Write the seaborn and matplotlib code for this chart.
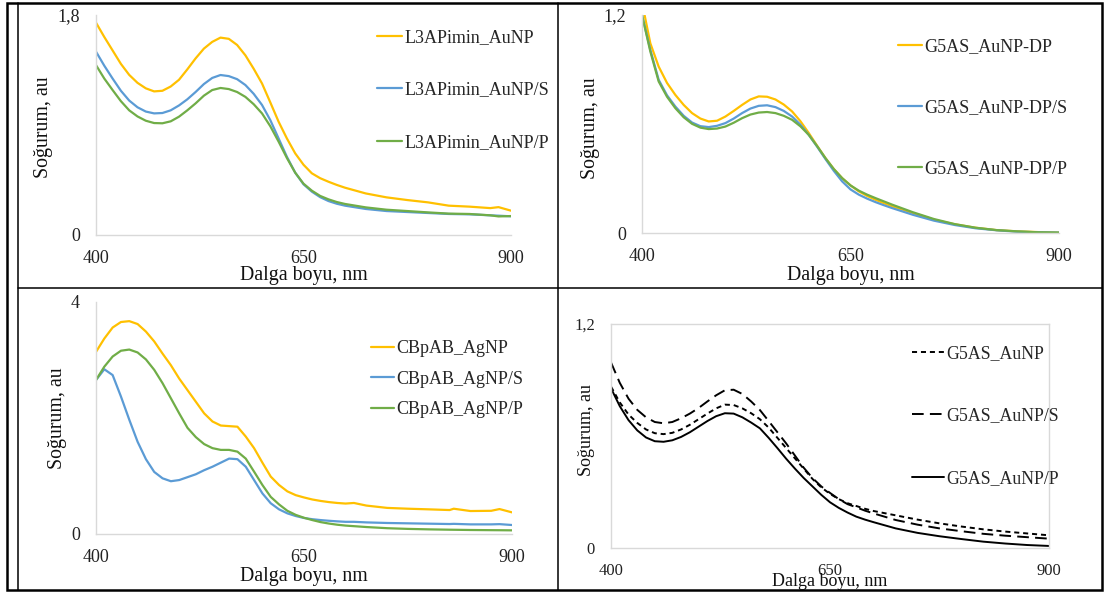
import matplotlib
matplotlib.use("Agg")
import matplotlib.pyplot as plt
import seaborn as sns
import pandas as pd
from matplotlib.lines import Line2D
from matplotlib.patches import Rectangle

# ---------------- data ----------------
# Panel 1: L3APimin
wl1 = [400, 410, 420, 430, 440, 450, 460, 470, 480, 490, 500, 510, 520, 530, 540, 550, 560, 570,
       580, 590, 600, 610, 620, 630, 640, 650, 660, 670, 680, 690, 700,
       725, 750, 775, 800, 825, 850, 875, 885, 900]
l3_aunp = [1.737, 1.62, 1.51, 1.40, 1.31, 1.245, 1.20, 1.175, 1.18, 1.215, 1.27, 1.355, 1.445, 1.525,
           1.58, 1.615, 1.605, 1.555, 1.47, 1.36, 1.24, 1.085, 0.927, 0.79, 0.668, 0.575, 0.505,
           0.465, 0.436, 0.41, 0.387,
           0.34, 0.308, 0.286, 0.267, 0.24, 0.232, 0.22, 0.228, 0.199]
l3_aunp_s = [1.50, 1.385, 1.28, 1.18, 1.10, 1.045, 1.01, 0.995, 0.998, 1.02, 1.06, 1.11, 1.17, 1.235,
             1.285, 1.309, 1.30, 1.275, 1.227, 1.155, 1.064, 0.94, 0.79, 0.64, 0.51, 0.415, 0.355,
             0.31, 0.278, 0.256, 0.24,
             0.213, 0.196, 0.188, 0.18, 0.172, 0.169, 0.161, 0.158, 0.153]
l3_aunp_p = [1.39, 1.28, 1.186, 1.095, 1.02, 0.97, 0.935, 0.916, 0.914, 0.93, 0.968, 1.02, 1.077, 1.14,
             1.186, 1.203, 1.194, 1.17, 1.13, 1.07, 0.995, 0.89, 0.764, 0.63, 0.51, 0.42, 0.363,
             0.32, 0.292, 0.27, 0.254,
             0.226, 0.207, 0.196, 0.185, 0.175, 0.172, 0.161, 0.152, 0.155]
labels1 = ["L3APimin_AuNP", "L3APimin_AuNP/S", "L3APimin_AuNP/P"]

# Panel 2: G5AS_AuNP-DP
wl2 = [400, 410, 420, 430, 440, 450, 460, 470, 480, 490, 500, 510, 520, 530, 540, 550, 560, 570,
       580, 590, 600, 610, 620, 630, 640, 650, 660, 670, 680, 690, 700,
       725, 750, 775, 800, 825, 850, 875, 900]
dp = [1.27, 1.044, 0.916, 0.826, 0.76, 0.705, 0.66, 0.63, 0.614, 0.618, 0.641, 0.672, 0.705, 0.735,
      0.752, 0.75, 0.735, 0.707, 0.669, 0.615, 0.55, 0.48, 0.412, 0.352, 0.302, 0.262, 0.229,
      0.204, 0.183, 0.164, 0.147,
      0.11, 0.073, 0.048, 0.029, 0.016, 0.009, 0.005, 0.002]
dp_s = [1.2, 1.008, 0.843, 0.758, 0.696, 0.645, 0.608, 0.588, 0.583, 0.59, 0.605, 0.63, 0.66, 0.685,
        0.70, 0.703, 0.693, 0.672, 0.641, 0.596, 0.54, 0.475, 0.407, 0.342, 0.284, 0.24, 0.211,
        0.189, 0.17, 0.153, 0.137,
        0.10, 0.068, 0.044, 0.026, 0.015, 0.007, 0.004, 0.002]
dp_p = [1.2, 0.999, 0.834, 0.75, 0.687, 0.637, 0.601, 0.58, 0.572, 0.575, 0.586, 0.607, 0.632, 0.652,
        0.663, 0.666, 0.66, 0.645, 0.623, 0.587, 0.54, 0.478, 0.412, 0.352, 0.302, 0.262, 0.233,
        0.211, 0.192, 0.174, 0.156,
        0.114, 0.077, 0.049, 0.029, 0.016, 0.009, 0.004, 0.002]
labels2 = ["G5AS_AuNP-DP", "G5AS_AuNP-DP/S", "G5AS_AuNP-DP/P"]

# Panel 3: CBpAB_AgNP
wl3 = [400, 410, 420, 430, 440, 450, 460, 470, 480, 490, 500, 510, 520, 530, 540, 550, 560, 570,
       580, 590, 600, 610, 620, 630, 640, 650, 660, 670, 680, 690, 700,
       710, 725, 750, 775, 800, 825, 830, 850, 875, 885, 900]
ag = [3.14, 3.37, 3.56, 3.655, 3.67, 3.62, 3.49, 3.32, 3.11, 2.91, 2.68, 2.48, 2.28, 2.08, 1.94, 1.87,
      1.86, 1.85, 1.68, 1.48, 1.23, 0.99, 0.845, 0.735, 0.67, 0.63, 0.595, 0.57, 0.55, 0.535, 0.525,
      0.535, 0.49, 0.45, 0.436, 0.425, 0.413, 0.436, 0.396, 0.40, 0.43, 0.373]
ag_s = [2.655, 2.84, 2.74, 2.37, 1.97, 1.59, 1.29, 1.07, 0.96, 0.91, 0.93, 0.98, 1.03, 1.10, 1.16,
        1.23, 1.30, 1.29, 1.16, 0.93, 0.70, 0.53, 0.425, 0.356, 0.31, 0.276, 0.255, 0.24, 0.228,
        0.218, 0.21,
        0.21, 0.20, 0.19, 0.184, 0.178, 0.172, 0.175, 0.166, 0.166, 0.17, 0.155]
ag_p = [2.655, 2.885, 3.06, 3.16, 3.18, 3.13, 3.01, 2.83, 2.60, 2.34, 2.08, 1.83, 1.67, 1.55, 1.48,
        1.45, 1.45, 1.42, 1.30, 1.075, 0.845, 0.64, 0.51, 0.40, 0.33, 0.28, 0.24, 0.205, 0.18,
        0.16, 0.145,
        0.135, 0.12, 0.10, 0.088, 0.08, 0.074, 0.073, 0.069, 0.066, 0.065, 0.063]
labels3 = ["CBpAB_AgNP", "CBpAB_AgNP/S", "CBpAB_AgNP/P"]

# Panel 4: G5AS_AuNP (black)
wl4 = [400, 410, 420, 430, 440, 450, 460, 470, 480, 490, 500, 510, 520, 530, 540, 550, 560, 570,
       580, 590, 600, 610, 620, 630, 640, 650, 660, 670, 680, 690, 700,
       725, 750, 775, 800, 825, 850, 875, 900]
g5 = [0.865, 0.78, 0.715, 0.67, 0.635, 0.615, 0.61, 0.617, 0.635, 0.66, 0.69, 0.72, 0.748, 0.768,
      0.766, 0.748, 0.722, 0.69, 0.645, 0.59, 0.535, 0.48, 0.425, 0.37, 0.325, 0.29, 0.262, 0.24,
      0.225, 0.21, 0.198,
      0.175, 0.152, 0.132, 0.115, 0.10, 0.088, 0.078, 0.068]
g5_s = [0.994, 0.885, 0.80, 0.74, 0.70, 0.675, 0.668, 0.675, 0.695, 0.72, 0.75, 0.785, 0.818, 0.845,
        0.848, 0.825, 0.785, 0.739, 0.68, 0.62, 0.56, 0.495, 0.43, 0.375, 0.33, 0.295, 0.262,
        0.235, 0.218, 0.20, 0.185,
        0.15, 0.125, 0.105, 0.09, 0.076, 0.066, 0.058, 0.05]
g5_p = [0.856, 0.76, 0.685, 0.63, 0.592, 0.572, 0.569, 0.577, 0.595, 0.62, 0.65, 0.68, 0.706, 0.722,
        0.72, 0.70, 0.672, 0.641, 0.59, 0.535, 0.478, 0.425, 0.375, 0.33, 0.285, 0.245, 0.215,
        0.19, 0.168, 0.152, 0.138,
        0.105, 0.081, 0.063, 0.048, 0.034, 0.024, 0.016, 0.011]
labels4 = ["G5AS_AuNP", "G5AS_AuNP/S", "G5AS_AuNP/P"]

x_ticks = [400, 650, 900]
x_label = "Dalga boyu, nm"
y_label = "Soğurum, au"

# ---------------- style ----------------
sns.set_theme(style="white")
plt.rcParams["font.family"] = ["Liberation Serif", "DejaVu Serif"]

W, H = 1107, 593
fig = plt.figure(figsize=(W / 100, H / 100), dpi=100)
fig.patch.set_facecolor("white")

COLORS = ["#FFC000", "#5B9BD5", "#70AD47"]
GRID = "#d9d9d9"


def axes_px(l, t, r, b):
    return fig.add_axes([l / W, 1 - b / H, (r - l) / W, (b - t) / H])


def long_df(wl, series, labels):
    frames = []
    for s, lab in zip(series, labels):
        frames.append(pd.DataFrame({"wl": wl, "abs": s, "name": lab}))
    return pd.concat(frames, ignore_index=True)


def style_axes(ax, ymax, ylab_txt, tick_fs, lab_fs, xl_y, yl_x, yl_y, frame=False):
    ax.set_xlim(400, 900)
    ax.set_ylim(0, ymax)
    ax.set_xticks(x_ticks)
    ax.set_xticklabels([str(v) for v in x_ticks])
    ax.set_yticks([0, ymax])
    ax.set_yticklabels(["0", ylab_txt])
    ax.tick_params(length=0, labelsize=tick_fs, colors="#222222")
    ax.tick_params(axis="y", pad=11.5)
    ax.tick_params(axis="x", pad=10.5)
    for side in ["top", "right"]:
        ax.spines[side].set_visible(frame)
    for side in ax.spines:
        ax.spines[side].set_color(GRID)
        ax.spines[side].set_linewidth(1.0)
    ax.set_facecolor("white")
    ax.set_xlabel(x_label, fontsize=lab_fs, va="center", color="#111111")
    ax.xaxis.set_label_coords(0.5, xl_y)
    ax.set_ylabel(y_label, fontsize=lab_fs, va="center", ha="center", color="#111111")
    ax.yaxis.set_label_coords(yl_x, yl_y)


def add_legend(ax, labels, xpx, ypx, spacing, hlen, fs=13):
    handles = ax.get_lines()[:len(labels)]
    ax.legend(handles, labels, loc="center left", bbox_to_anchor=(xpx / W, 1 - ypx / H),
              bbox_transform=fig.transFigure, frameon=False, fontsize=fs,
              handlelength=hlen, handletextpad=0.1, labelspacing=spacing,
              borderpad=0, borderaxespad=0)


# Panel 1
ax1 = axes_px(96, 15, 511, 235)
sns.lineplot(data=long_df(wl1, [l3_aunp, l3_aunp_s, l3_aunp_p], labels1), x="wl", y="abs",
             hue="name", palette=COLORS, linewidth=1.6, sort=False, legend=False, ax=ax1)
style_axes(ax1, 1.8, "1,8", 13, 14.3, -0.186, -0.127, 0.49)
add_legend(ax1, labels1, 377, 90, 1.97, 1.4)

# Panel 2
ax2 = axes_px(642, 15, 1059, 233)
sns.lineplot(data=long_df(wl2, [dp, dp_s, dp_p], labels2), x="wl", y="abs",
             hue="name", palette=COLORS, linewidth=1.6, sort=False, legend=False, ax=ax2)
style_axes(ax2, 1.2, "1,2", 13, 14.3, -0.197, -0.124, 0.48)
add_legend(ax2, labels2, 898, 108, 2.44, 1.35)

# Panel 3
ax3 = axes_px(96, 302, 512, 534)
sns.lineplot(data=long_df(wl3, [ag, ag_s, ag_p], labels3), x="wl", y="abs",
             hue="name", palette=COLORS, linewidth=1.6, sort=False, legend=False, ax=ax3)
style_axes(ax3, 4, "4", 13, 14.3, -0.185, -0.093, 0.5)
add_legend(ax3, labels3, 371, 379, 0.75, 1.3)

# Panel 4
ax4 = axes_px(611, 324, 1049, 548)
sns.lineplot(data=long_df(wl4, [g5, g5_s, g5_p], labels4), x="wl", y="abs",
             style="name", color="black", linewidth=1.4, sort=False, legend=False,
             dashes={labels4[0]: (2.6, 2.0), labels4[1]: (6.0, 3.2), labels4[2]: ""}, ax=ax4)
style_axes(ax4, 1.2, "1,2", 12, 13, -0.15, -0.055, 0.527, frame=True)
add_legend(ax4, labels4, 912, 416, 2.57, 1.8, fs=12.8)

# ---------------- table frame ----------------
fig.add_artist(Rectangle((7 / W, 1 - 590 / H), (1102 - 7) / W, (590 - 3) / H,
                         transform=fig.transFigure, fill=False, lw=1.8, ec="black"))
fig.add_artist(Line2D([18 / W, 18 / W], [1 - 3 / H, 1 - 590 / H], transform=fig.transFigure,
                      color="black", lw=1.1))
fig.add_artist(Line2D([558 / W, 558 / W], [1 - 3 / H, 1 - 590 / H], transform=fig.transFigure,
                      color="black", lw=1.1))
fig.add_artist(Line2D([18 / W, 1102 / W], [1 - 288 / H, 1 - 288 / H], transform=fig.transFigure,
                      color="black", lw=1.1))

fig.savefig("out.png", dpi=100)
